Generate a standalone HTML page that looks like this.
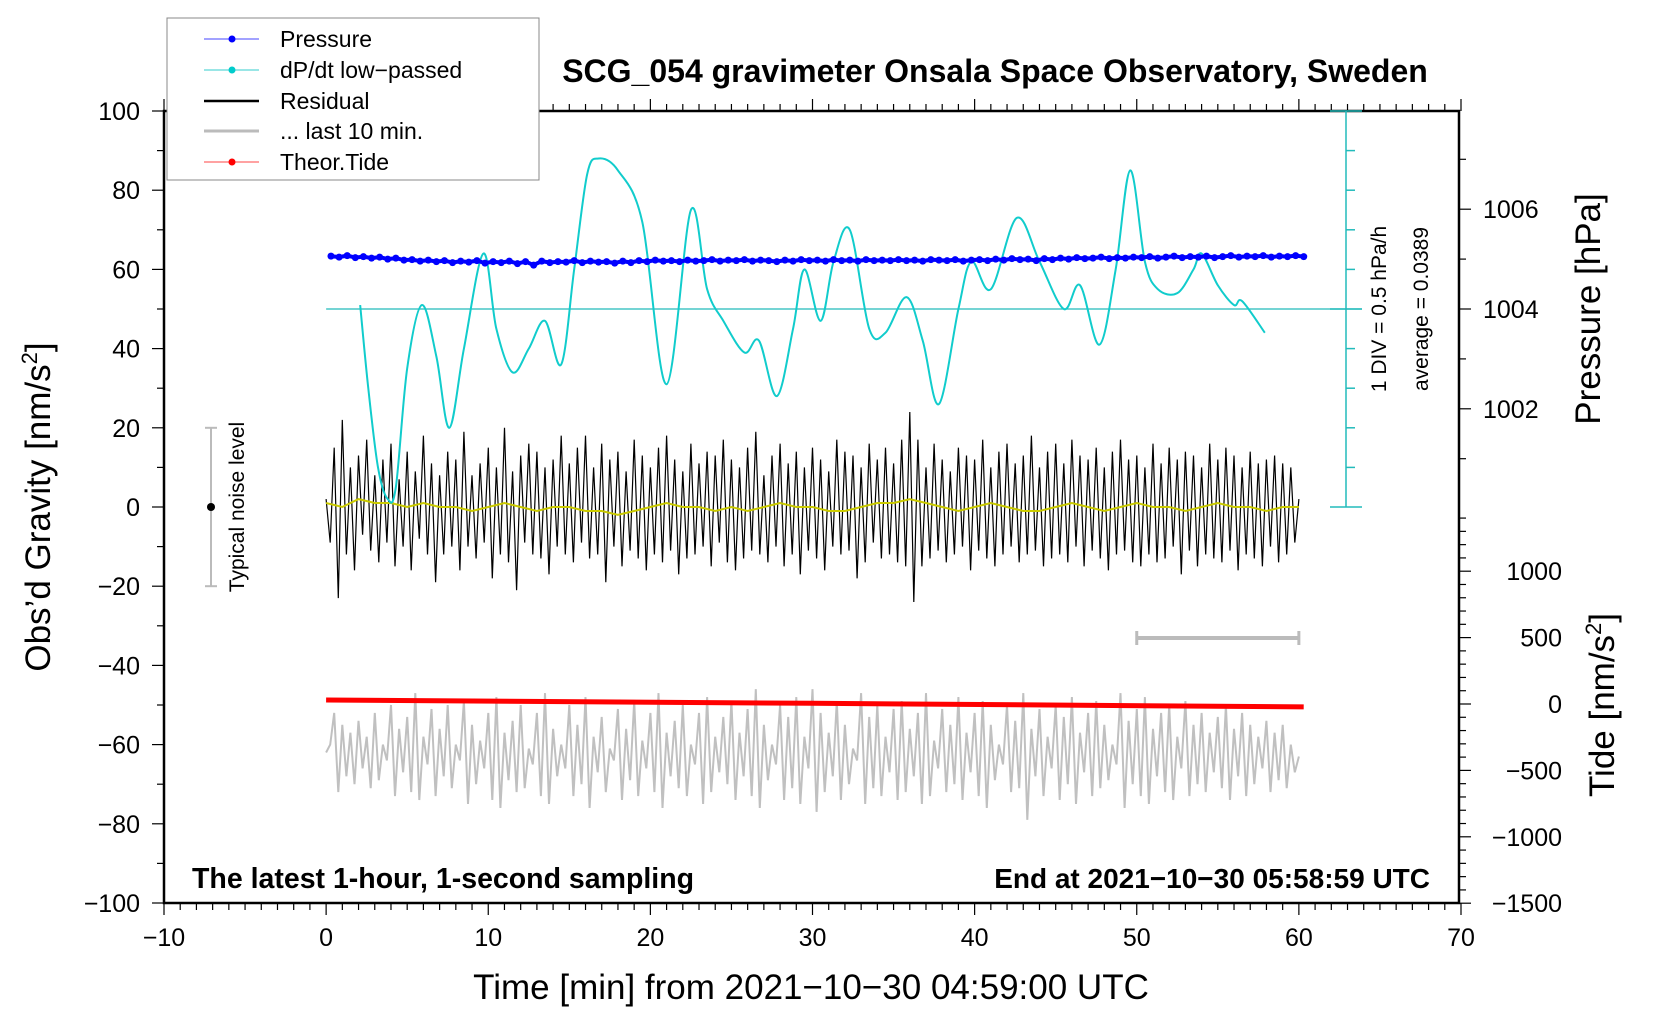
<!DOCTYPE html>
<html><head><meta charset="utf-8"><style>
html,body{margin:0;padding:0;background:#fff}
svg{display:block;font-family:"Liberation Sans",Arial,sans-serif}
</style></head><body>
<svg id="chart" width="1660" height="1020" viewBox="0 0 1660 1020" xmlns="http://www.w3.org/2000/svg">
<rect width="1660" height="1020" fill="#fff"/>
<g id="axes"></g>
<g id="series"></g>
<text x="995" y="82" font-size="32" font-weight="bold" text-anchor="middle">SCG_054 gravimeter Onsala Space Observatory, Sweden</text>
<text x="192" y="888" font-size="28.5" font-weight="bold">The latest 1-hour, 1-second sampling</text>
<text x="1430" y="888" font-size="28" font-weight="bold" text-anchor="end">End at 2021−10−30 05:58:59 UTC</text>
<text x="811" y="999" font-size="35" text-anchor="middle">Time [min] from 2021−10−30 04:59:00 UTC</text>
<text transform="translate(50,507) rotate(-90)" font-size="35" text-anchor="middle">Obs’d Gravity [nm/s<tspan font-size="22" dy="-13">2</tspan><tspan dy="13">]</tspan></text>
<text transform="translate(1600,309) rotate(-90)" font-size="35" text-anchor="middle">Pressure [hPa]</text>
<text transform="translate(1614,705) rotate(-90)" font-size="35" text-anchor="middle">Tide [nm/s<tspan font-size="22" dy="-13">2</tspan><tspan dy="13">]</tspan></text>
<text transform="translate(1386,309) rotate(-90)" font-size="21" text-anchor="middle">1 DIV = 0.5 hPa/h</text>
<text transform="translate(1428,309) rotate(-90)" font-size="21" text-anchor="middle">average = 0.0389</text>
<text transform="translate(244,507) rotate(-90)" font-size="21" text-anchor="middle">Typical noise level</text>
<g>
<rect x="167" y="18" width="372" height="162" fill="#fff" stroke="#888" stroke-width="1"/>
<g><line x1="204" y1="39" x2="259" y2="39" stroke="#44f" stroke-width="1"/><circle cx="232" cy="39" r="3.5" fill="#00f"/><text x="280" y="47" font-size="23">Pressure</text></g>
<g><line x1="204" y1="70" x2="259" y2="70" stroke="#3cc" stroke-width="1"/><circle cx="232" cy="70" r="3.5" fill="#0cc"/><text x="280" y="78" font-size="23">dP/dt low−passed</text></g>
<g><line x1="204" y1="101" x2="259" y2="101" stroke="#000" stroke-width="2.5"/><text x="280" y="109" font-size="23">Residual</text></g>
<g><line x1="204" y1="131" x2="259" y2="131" stroke="#bbb" stroke-width="3"/><text x="280" y="139" font-size="23">... last 10 min.</text></g>
<g><line x1="204" y1="162" x2="259" y2="162" stroke="#f44" stroke-width="1"/><circle cx="232" cy="162" r="3.5" fill="#f00"/><text x="280" y="170" font-size="23">Theor.Tide</text></g>
</g>
</svg>
<script>
const residual=[2,-9,15,-23,22,-12,10,-16,13,-7,17,-11,8,-14,12,-9,16,-15,7,-10,
14,-16,9,-8,18,-12,11,-19,8,-12,14,-10,12,-16,19,-10,8,-13,11,-9,
15,-18,10,-12,20,-14,9,-21,13,-9,16,-12,14,-13,10,-17,12,-10,18,-12,
11,-14,15,-9,18,-13,10,-12,16,-19,12,-10,14,-15,9,-11,17,-13,13,-16,
10,-12,15,-14,18,-11,12,-17,9,-13,16,-12,11,-10,14,-15,13,-9,17,-14,
12,-16,10,-13,15,-11,19,-12,8,-14,13,-10,16,-15,11,-12,14,-17,10,-11,
15,-13,12,-16,9,-10,17,-12,14,-11,13,-18,10,-14,16,-9,12,-13,15,-12,
11,-14,17,-15,24,-24,17,-15,10,-13,16,-11,12,-14,9,-12,15,-10,13,-16,
12,-11,17,-13,10,-15,14,-12,16,-10,11,-14,13,-12,18,-11,10,-15,14,-13,
16,-12,11,-14,17,-10,13,-15,12,-11,15,-13,10,-16,14,-12,17,-11,12,-14,
13,-15,10,-12,16,-14,11,-13,15,-10,12,-17,14,-11,13,-15,10,-12,16,-13,
12,-14,15,-11,13,-16,10,-12,14,-13,11,-15,12,-10,13,-14,11,-12,10,-9,2];
const lastTen=[-62,-60,-52,-72,-55,-68,-57,-70,-54,-66,-58,-71,-52,-69,-60,-64,-50,-73,-56,-67,
-53,-72,-47,-74,-58,-65,-51,-73,-56,-68,-50,-71,-60,-64,-49,-75,-55,-70,-59,-66,
-52,-74,-48,-76,-57,-69,-54,-72,-50,-71,-61,-65,-52,-73,-47,-75,-56,-68,-60,-66,
-50,-73,-55,-70,-48,-76,-58,-67,-53,-72,-61,-64,-51,-74,-56,-69,-49,-73,-59,-66,
-52,-72,-47,-76,-57,-68,-54,-71,-50,-73,-60,-65,-52,-75,-48,-72,-58,-67,-53,-70,
-49,-74,-57,-68,-51,-73,-46,-76,-55,-69,-60,-65,-50,-74,-53,-71,-48,-75,-58,-66,
-46,-77,-52,-72,-57,-68,-49,-74,-55,-70,-61,-64,-47,-75,-53,-71,-50,-73,-58,-67,
-51,-74,-49,-72,-56,-68,-52,-75,-47,-73,-59,-66,-51,-72,-55,-70,-48,-74,-57,-67,
-52,-73,-49,-76,-55,-69,-60,-65,-50,-72,-54,-71,-47,-79,-56,-68,-51,-73,-58,-66,
-50,-74,-53,-70,-48,-75,-57,-67,-52,-73,-49,-71,-55,-69,-60,-65,-47,-76,-54,-70,
-51,-73,-48,-75,-56,-68,-52,-72,-50,-74,-58,-66,-49,-73,-55,-70,-52,-72,-57,-67,
-53,-71,-50,-74,-56,-68,-52,-73,-55,-70,-58,-66,-54,-72,-57,-69,-55,-71,-60,-67,-63];
const pressure=[1005.06,1005.04,1005.07,1005.03,1005.05,1005.02,1005.04,1005.00,1005.02,1004.98,
1004.99,1004.96,1004.98,1004.95,1004.97,1004.93,1004.96,1004.94,1004.97,1004.92,
1004.95,1004.93,1004.96,1004.91,1004.95,1004.88,1004.96,1004.93,1004.95,1004.94,
1004.97,1004.93,1004.96,1004.94,1004.95,1004.92,1004.96,1004.93,1004.97,1004.95,
1004.98,1004.96,1004.97,1004.95,1004.98,1004.96,1004.97,1004.99,1004.96,1004.98,
1004.97,1004.99,1004.96,1004.98,1004.97,1004.95,1004.98,1004.96,1004.99,1004.97,
1004.98,1004.96,1004.99,1004.97,1004.98,1004.96,1004.99,1004.97,1004.98,1004.97,
1004.99,1004.97,1004.98,1004.96,1004.99,1004.98,1004.97,1004.99,1004.96,1004.98,
1004.99,1004.97,1005.00,1004.98,1005.01,1004.99,1005.00,1004.97,1005.01,1004.99,
1005.02,1005.00,1005.03,1005.01,1005.02,1005.04,1005.01,1005.03,1005.02,1005.04,
1005.03,1005.05,1005.02,1005.04,1005.06,1005.03,1005.05,1005.04,1005.06,1005.03,
1005.05,1005.07,1005.04,1005.06,1005.05,1005.07,1005.04,1005.06,1005.05,1005.07,1005.05];
const lowpass=[1,0,2,1,1,0,1,0,0,-1,0,1,0,-1,0,0,-1,-1,-2,-1,0,1,0,0,-1,0,-1,0,1,0,0,-1,-1,0,1,1,2,1,0,-1,0,1,0,-1,-1,0,1,0,-1,0,1,0,0,-1,0,1,0,0,-1,0,0];
const tideTimes=[0,30,60.3];
const tideValues=[30,5,-22];
const dpdtTimes=[2.1,2.6,3.2,3.8,4.3,5.0,5.9,6.8,7.6,8.5,9.7,10.5,11.5,12.5,13.5,14.5,15.3,16.1,16.8,18.0,19.5,21.0,22.5,23.5,24.5,25.8,26.7,27.8,28.8,29.5,30.5,31.3,32.3,33.5,34.5,35.8,36.8,37.8,39.0,39.8,41.0,42.6,44.0,45.5,46.5,47.7,48.7,49.6,50.5,51.3,52.5,53.5,54.0,55.0,56.0,56.5,57.9];
const dpdtValues=[0.05,-1.0,-2.0,-2.4,-2.25,-0.75,0.05,-0.6,-1.5,-0.5,0.7,-0.25,-0.8,-0.5,-0.15,-0.7,0.5,1.7,1.9,1.75,1.1,-0.95,1.25,0.25,-0.15,-0.55,-0.4,-1.1,-0.25,0.5,-0.15,0.6,1.0,-0.25,-0.3,0.15,-0.4,-1.2,0,0.6,0.25,1.15,0.6,0,0.3,-0.45,0.5,1.75,0.6,0.25,0.2,0.5,0.7,0.3,0.05,0.1,-0.3];
const xTicks=[-10,0,10,20,30,40,50,60,70];
const yTicks=[-100,-80,-60,-40,-20,0,20,40,60,80,100];
const pTicks=[1002,1004,1006];
const tTicks=[-1500,-1000,-500,0,500,1000];

const NS="http://www.w3.org/2000/svg";
const X=t=>164+(t+10)*16.2125;
const Y=g=>111+(100-g)*3.96;
const YP=p=>309-(p-1004)*49.9;
const YT=v=>704-v*66.4/500;
const YD=v=>Y(50+v*20);
function mk(tag,attrs,parent){const e=document.createElementNS(NS,tag);for(const k in attrs)e.setAttribute(k,attrs[k]);parent.appendChild(e);return e;}
const axes=document.getElementById('axes'),ser=document.getElementById('series');

let fr=mk('rect',{x:164,y:111,width:1295,height:792,fill:'none',stroke:'#000','stroke-width':2.5},axes);


for(let t=-10;t<=70;t++){const big=t%10===0;
 mk('line',{x1:X(t),x2:X(t),y1:903,y2:903+(big?12:7),stroke:'#000','stroke-width':1.2},axes);
 mk('line',{x1:X(t),x2:X(t),y1:111,y2:111-(big?12:7),stroke:'#000','stroke-width':1.2},axes);}
xTicks.forEach(t=>{const e=mk('text',{x:X(t),y:946,'font-size':25,'text-anchor':'middle'},axes);e.textContent=String(t).replace('-','−');
 
 });
for(let g=-100;g<=100;g+=10){const big=g%20===0;mk('line',{x1:164,x2:164-(big?12:7),y1:Y(g),y2:Y(g),stroke:'#000','stroke-width':1.2},axes);}
yTicks.forEach(g=>{const e=mk('text',{x:140,y:Y(g)+9,'font-size':25,'text-anchor':'end'},axes);e.textContent=String(g).replace('-','−');
 
 });
for(let p=1001;p<=1007;p++){const big=p%2===0;mk('line',{x1:1459,x2:1459+(big?12:7),y1:YP(p),y2:YP(p),stroke:'#000','stroke-width':1.2},axes);}
pTicks.forEach(p=>{const e=mk('text',{x:1483,y:YP(p)+9,'font-size':25},axes);e.textContent=p;
 
 });
for(let v=-1500;v<=1400;v+=100){const big=v%500===0;mk('line',{x1:1459,x2:1459+(big?12:7),y1:YT(v),y2:YT(v),stroke:'#000','stroke-width':1.2},axes);}
tTicks.forEach(v=>{const e=mk('text',{x:1562,y:YT(v)+9,'font-size':25,'text-anchor':'end'},axes);e.textContent=String(v).replace('-','−');
 
 });
mk('line',{x1:1346,x2:1346,y1:Y(100),y2:Y(0),stroke:'#2bb',"stroke-width":1.5},axes);
for(let k=0;k<=10;k++){const big=(k===0||k===5||k===10);mk('line',{x1:big?1330:1346,x2:big?1362:1355,y1:Y(k*10),y2:Y(k*10),stroke:'#2bb','stroke-width':1.5},axes);}
let cl=mk('line',{x1:X(0),x2:1362,y1:Y(50),y2:Y(50),stroke:'#2bb','stroke-width':1.3},axes);


let nb=mk('g',{},axes);


mk('line',{x1:211,x2:211,y1:Y(20),y2:Y(-20),stroke:'#bbb','stroke-width':2},nb);
mk('line',{x1:205,x2:217,y1:Y(20),y2:Y(20),stroke:'#bbb','stroke-width':2},nb);
mk('line',{x1:205,x2:217,y1:Y(-20),y2:Y(-20),stroke:'#bbb','stroke-width':2},nb);
mk('circle',{cx:211,cy:Y(0),r:4,fill:'#000'},nb);
let lb=mk('g',{},axes);


mk('line',{x1:X(50),x2:X(60),y1:638,y2:638,stroke:'#bbb','stroke-width':4},lb);
mk('line',{x1:X(50),x2:X(50),y1:631,y2:645,stroke:'#bbb','stroke-width':3},lb);
mk('line',{x1:X(60),x2:X(60),y1:631,y2:645,stroke:'#bbb','stroke-width':3},lb);

function poly(pts,attrs){return mk('polyline',Object.assign({points:pts.map(p=>p[0].toFixed(1)+','+p[1].toFixed(1)).join(' '),fill:'none'},attrs),ser);}
let gl=poly(lastTen.map((v,i)=>[X(i*0.25),Y(v)]),{stroke:'#c0c0c0','stroke-width':2});


let tl=poly(tideTimes.map((t,i)=>[X(t),YT(tideValues[i])]),{stroke:'#f00','stroke-width':5});


let rl=poly(residual.map((v,i)=>[X(i*0.25),Y(v)]),{stroke:'#000','stroke-width':1.2});


let yl=poly(lowpass.map((v,i)=>[X(i),Y(v)]),{stroke:'#cc0','stroke-width':2});


(function(){const P=dpdtTimes.map((t,i)=>[X(t),YD(dpdtValues[i])]);let d='M'+P[0][0]+','+P[0][1];
 for(let i=0;i<P.length-1;i++){const p0=P[Math.max(0,i-1)],p1=P[i],p2=P[i+1],p3=P[Math.min(P.length-1,i+2)];
 d+=' C'+(p1[0]+(p2[0]-p0[0])/6)+','+(p1[1]+(p2[1]-p0[1])/6)+' '+(p2[0]-(p3[0]-p1[0])/6)+','+(p2[1]-(p3[1]-p1[1])/6)+' '+p2[0]+','+p2[1];}
 const e=mk('path',{d:d,fill:'none',stroke:'#1cc','stroke-width':2},ser);
 
 })();
let pl=poly(pressure.map((p,i)=>[X(0.3+i*0.5),YP(p)]),{stroke:'#00f','stroke-width':4});


pressure.forEach((p,i)=>{const c=mk('circle',{cx:X(0.3+i*0.5),cy:YP(p),r:3.5,fill:'#00f'},ser);
 
 });
</script>
</body></html>
